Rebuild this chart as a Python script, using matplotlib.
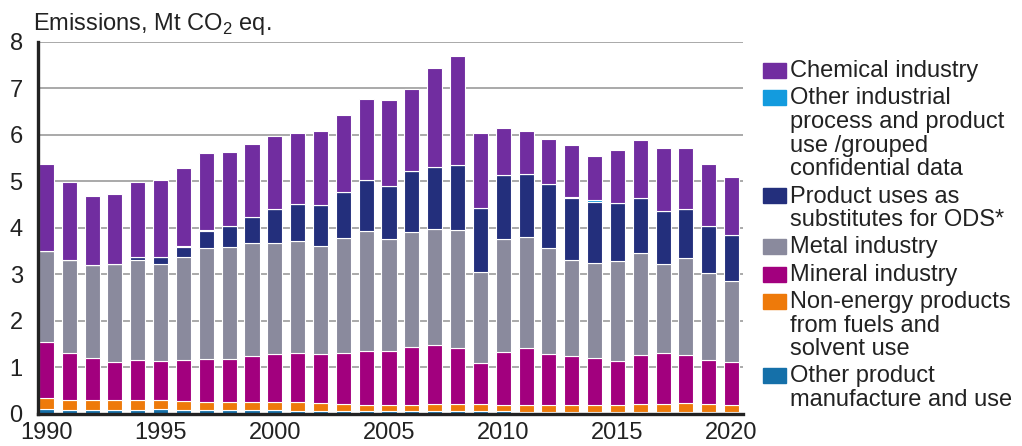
import matplotlib
matplotlib.use("Agg")
import matplotlib.pyplot as plt
from matplotlib.patches import Rectangle

plt.rcParams["font.family"] = ["Liberation Sans", "DejaVu Sans"]

# ── Data (Mt CO2 eq., 1990–2020) ──────────────────────────────────────────────

years = list(range(1990, 2021))

other_product = [0.10, 0.08, 0.07, 0.07, 0.07, 0.09, 0.07, 0.07, 0.07, 0.07,
                 0.08, 0.05, 0.05, 0.05, 0.05, 0.05, 0.05, 0.05, 0.05, 0.05,
                 0.05, 0.04, 0.04, 0.04, 0.04, 0.04, 0.04, 0.04, 0.04, 0.04,
                 0.04]
non_energy = [0.23, 0.22, 0.22, 0.22, 0.23, 0.21, 0.20, 0.18, 0.18, 0.17,
              0.16, 0.19, 0.17, 0.15, 0.14, 0.14, 0.14, 0.15, 0.15, 0.15,
              0.14, 0.15, 0.15, 0.15, 0.15, 0.15, 0.17, 0.16, 0.18, 0.16,
              0.15]
mineral = [1.20, 1.01, 0.91, 0.81, 0.86, 0.83, 0.88, 0.92, 0.93, 1.00,
           1.04, 1.06, 1.06, 1.10, 1.16, 1.16, 1.25, 1.28, 1.21, 0.88,
           1.14, 1.22, 1.09, 1.04, 1.00, 0.95, 1.04, 1.10, 1.03, 0.95,
           0.92]
metal = [1.97, 2.00, 1.99, 2.11, 2.14, 2.10, 2.21, 2.40, 2.40, 2.44,
         2.40, 2.42, 2.33, 2.48, 2.58, 2.40, 2.47, 2.49, 2.54, 1.96,
         2.43, 2.40, 2.28, 2.08, 2.06, 2.14, 2.20, 1.93, 2.10, 1.88,
         1.74]
ods_substitutes = [0.00, 0.00, 0.00, 0.00, 0.07, 0.14, 0.22, 0.35, 0.45, 0.55,
                   0.72, 0.80, 0.88, 0.98, 1.10, 1.15, 1.32, 1.34, 1.40, 1.39,
                   1.37, 1.34, 1.38, 1.34, 1.30, 1.26, 1.20, 1.12, 1.06, 1.01,
                   0.99]
other_industrial = [0.00, 0.00, 0.00, 0.00, 0.00, 0.00, 0.03, 0.03, 0.00, 0.00,
                    0.00, 0.00, 0.00, 0.00, 0.00, 0.00, 0.00, 0.00, 0.00, 0.00,
                    0.00, 0.00, 0.00, 0.02, 0.05, 0.00, 0.00, 0.00, 0.00, 0.00,
                    0.00]
chemical = [1.87, 1.67, 1.49, 1.51, 1.62, 1.66, 1.67, 1.65, 1.60, 1.57,
            1.57, 1.52, 1.60, 1.66, 1.75, 1.85, 1.75, 2.13, 2.34, 1.60,
            1.01, 0.94, 0.97, 1.12, 0.94, 1.14, 1.24, 1.37, 1.31, 1.34,
            1.26]

# bottom-to-top stacking order
series = [
    (other_product,    "#1570a9", "Other product\nmanufacture and use"),
    (non_energy,       "#ee7a0a", "Non-energy products\nfrom fuels and\nsolvent use"),
    (mineral,          "#a2007e", "Mineral industry"),
    (metal,            "#8a8a9d", "Metal industry"),
    (ods_substitutes,  "#232f7c", "Product uses as\nsubstitutes for ODS*"),
    (other_industrial, "#139bde", "Other industrial\nprocess and product\nuse /grouped\nconfidential data"),
    (chemical,         "#712da0", "Chemical industry"),
]

FS = 17
TEXT = "#222222"
W, H = 1022, 446

fig = plt.figure(figsize=(W / 100, H / 100), dpi=100)
ax = fig.add_axes([38 / W, 1 - 413.5 / H, 705 / W, 371.5 / H])

bottom = [0.0] * len(years)
for values, color, _ in series:
    ax.bar(years, values, bottom=bottom, width=0.66, color=color,
           edgecolor="white", linewidth=0.8, zorder=3)
    bottom = [b + v for b, v in zip(bottom, values)]

ax.set_xlim(1989.63, 2020.5)
ax.set_ylim(0, 8)
ax.set_yticks(range(0, 9))
ax.set_xticks(range(1990, 2021, 5))
ax.tick_params(length=0, labelsize=FS, colors=TEXT)
ax.tick_params(axis="y", pad=11)
ax.tick_params(axis="x", pad=6)
ax.yaxis.grid(True, color="#a3a3a3", linewidth=1.3, zorder=0)
ax.set_axisbelow(True)
ax.spines[["top", "right"]].set_visible(False)
for side in ("left", "bottom"):
    ax.spines[side].set_color("#222222")
    ax.spines[side].set_linewidth(2.4)
    ax.spines[side].set_zorder(5)

fig.text(33 / W, 1 - 30 / H, r"Emissions, Mt CO$_\mathregular{2}$ eq.",
         fontsize=FS, color=TEXT, va="baseline", ha="left")

# ── Legend, drawn by hand for tight line spacing ─────────────────────────────
line_h, gap = 23.7, 3.5
baseline = 77.0
for _, color, label in reversed(series):
    lines = label.split("\n")
    fig.patches.append(Rectangle((763 / W, 1 - (baseline + 1) / H), 23 / W, 15 / H,
                                 transform=fig.transFigure, color=color))
    for i, line in enumerate(lines):
        fig.text(790 / W, 1 - (baseline + i * line_h) / H, line, fontsize=FS,
                 color=TEXT, va="baseline", ha="left")
    baseline += len(lines) * line_h + gap

fig.savefig("out.png", dpi=100, facecolor="white")
